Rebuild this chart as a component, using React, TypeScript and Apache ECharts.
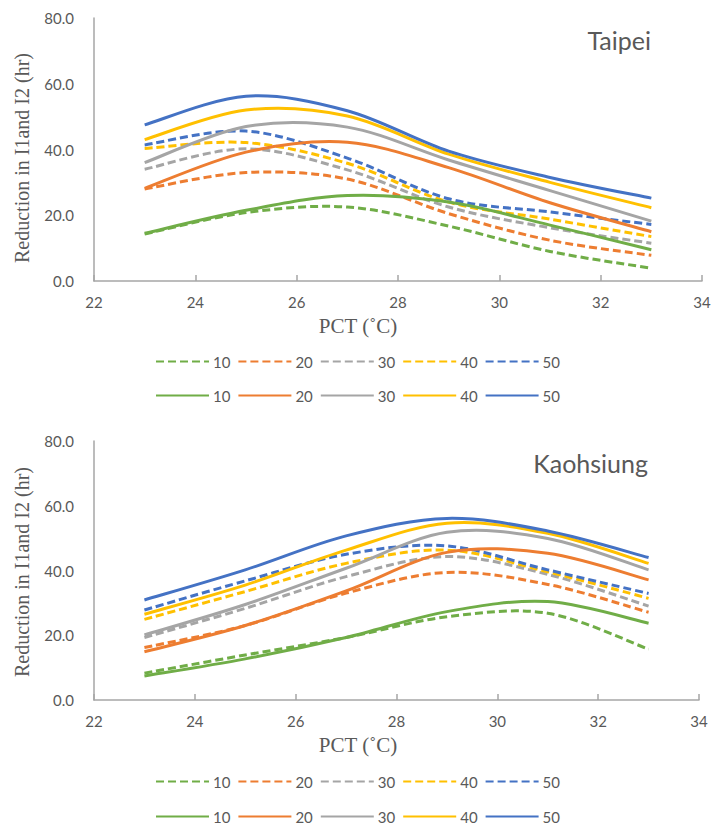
import React, { useEffect, useRef } from "react";
import * as echarts from "echarts";

// PCT (°C) positions of the data points
const pct = [23, 25, 27, 29, 31, 33];
const levels = ["10", "20", "30", "40", "50"];
const yTicks = [0, 20, 40, 60, 80];
const xTicks = [22, 24, 26, 28, 30, 32, 34];

// Taipei – dashed series
const taipeiDashed10 = [14.3, 20.8, 22.5, 16.7, 9.0, 3.9];
const taipeiDashed20 = [28.0, 33.0, 31.0, 20.5, 12.4, 7.8];
const taipeiDashed30 = [34.0, 40.2, 33.8, 22.5, 16.2, 11.5];
const taipeiDashed40 = [40.3, 42.1, 35.8, 24.0, 18.8, 13.5];
const taipeiDashed50 = [41.4, 45.6, 37.4, 25.0, 21.0, 17.2];
// Taipei – solid series
const taipeiSolid10 = [14.5, 21.5, 26.0, 24.0, 17.0, 9.5];
const taipeiSolid20 = [28.2, 39.2, 42.2, 34.5, 23.8, 15.0];
const taipeiSolid30 = [36.0, 47.0, 46.8, 36.8, 27.5, 18.2];
const taipeiSolid40 = [43.0, 52.0, 50.2, 38.6, 30.0, 22.3];
const taipeiSolid50 = [47.5, 56.2, 51.8, 39.5, 31.5, 25.2];

// Kaohsiung – dashed series
const kaoDashed10 = [8.3, 13.9, 19.3, 25.7, 26.8, 15.7];
const kaoDashed20 = [16.2, 23.0, 33.0, 39.4, 35.7, 27.1];
const kaoDashed30 = [19.3, 28.3, 38.1, 44.3, 38.8, 29.0];
const kaoDashed40 = [24.9, 33.5, 42.2, 46.3, 39.6, 31.4];
const kaoDashed50 = [27.8, 36.8, 45.0, 47.6, 40.2, 32.9];
// Kaohsiung – solid series
const kaoSolid10 = [7.4, 12.7, 19.3, 27.3, 30.4, 23.7];
const kaoSolid20 = [14.9, 23.0, 33.7, 45.6, 45.3, 37.1];
const kaoSolid30 = [20.1, 29.5, 40.7, 51.8, 49.9, 40.2];
const kaoSolid40 = [26.5, 35.5, 46.3, 54.6, 51.5, 42.2];
const kaoSolid50 = [30.9, 40.2, 50.7, 56.1, 52.2, 44.0];

const colors = ["#70AD47", "#ED7D31", "#A5A5A5", "#FFC000", "#4472C4"];

const charts = [
  {
    title: "Taipei",
    dashed: [taipeiDashed10, taipeiDashed20, taipeiDashed30, taipeiDashed40, taipeiDashed50],
    solid: [taipeiSolid10, taipeiSolid20, taipeiSolid30, taipeiSolid40, taipeiSolid50],
  },
  {
    title: "Kaohsiung",
    dashed: [kaoDashed10, kaoDashed20, kaoDashed30, kaoDashed40, kaoDashed50],
    solid: [kaoSolid10, kaoSolid20, kaoSolid30, kaoSolid40, kaoSolid50],
  },
];

const GRAY_TEXT = "#595959";
const AXIS_COLOR = "#A6A6A6";
const SANS = "Lato";
const SERIF = "'Liberation Serif', 'Times New Roman', serif";
const DASH = [8, 4];

// Excel-like smoothed line (Catmull-Rom) through pixel points
function smoothPath(pts: number[][]): string {
  const n = pts.length;
  if (n === 0) return "";
  let d = `M${pts[0][0]},${pts[0][1]}`;
  for (let i = 0; i < n - 1; i++) {
    const p0 = pts[Math.max(0, i - 1)];
    const p1 = pts[i];
    const p2 = pts[i + 1];
    const p3 = pts[Math.min(n - 1, i + 2)];
    const c1x = p1[0] + (p2[0] - p0[0]) / 6;
    const c1y = p1[1] + (p2[1] - p0[1]) / 6;
    const c2x = p2[0] - (p3[0] - p1[0]) / 6;
    const c2y = p2[1] - (p3[1] - p1[1]) / 6;
    d += ` C${c1x},${c1y} ${c2x},${c2y} ${p2[0]},${p2[1]}`;
  }
  return d;
}

export default function App() {
  const ref = useRef<HTMLDivElement>(null);

  useEffect(() => {
    if (!ref.current) return;
    const chart = echarts.init(ref.current, undefined, { renderer: "svg" });

    const layout = [
      { left: 94, width: 608, top: 18, height: 263, titleY: 40, titleX: 651, pctY: 326, leg1: 354, leg2: 388, yTitleY: 158 },
      { left: 94, width: 605, top: 441, height: 259, titleY: 463, titleX: 648, pctY: 745, leg1: 774, leg2: 809, yTitleY: 572 },
    ];

    const grids: any[] = [];
    const xAxes: any[] = [];
    const yAxes: any[] = [];
    const series: any[] = [];
    const legends: any[] = [];
    const graphics: any[] = [];

    charts.forEach((c, ci) => {
      const L = layout[ci];
      grids.push({ left: L.left, top: L.top, width: L.width, height: L.height, containLabel: false });
      xAxes.push({
        type: "value",
        gridIndex: ci,
        min: xTicks[0],
        max: xTicks[xTicks.length - 1],
        interval: 2,
        splitLine: { show: false },
        axisLine: { show: true, onZero: false, lineStyle: { color: AXIS_COLOR, width: 1.5 } },
        axisTick: { show: true, inside: true, length: 6, lineStyle: { color: AXIS_COLOR, width: 1.5 } },
        axisLabel: { color: GRAY_TEXT, fontFamily: SANS, fontSize: 15, margin: 13 },
      });
      yAxes.push({
        type: "value",
        gridIndex: ci,
        min: yTicks[0],
        max: yTicks[yTicks.length - 1],
        interval: 20,
        splitLine: { show: false },
        axisLine: { show: true, lineStyle: { color: AXIS_COLOR, width: 1.5 } },
        axisTick: { show: false },
        axisLabel: {
          color: GRAY_TEXT,
          fontFamily: SANS,
          fontSize: 15,
          margin: 20,
          formatter: (v: number) => v.toFixed(1),
        },
      });

      const dNames: string[] = [];
      const sNames: string[] = [];
      (["d", "s"] as const).forEach((kind) => {
        const arrs = kind === "d" ? c.dashed : c.solid;
        arrs.forEach((arr, i) => {
          const name = `${ci}${kind}${levels[i]}`;
          (kind === "d" ? dNames : sNames).push(name);
          const lineStyle = { color: colors[i], width: 3, type: kind === "d" ? DASH : "solid" };
          // legend entry (line icon)
          series.push({
            name,
            type: "line",
            xAxisIndex: ci,
            yAxisIndex: ci,
            data: [],
            symbol: "none",
            lineStyle,
            itemStyle: { color: colors[i] },
          });
          // the smoothed curve, drawn through the axis scales
          const points = pct.map((x, j) => [x, arr[j]]);
          series.push({
            name: `curve-${name}`,
            type: "custom",
            xAxisIndex: ci,
            yAxisIndex: ci,
            data: points,
            encode: { x: 0, y: 1 },
            renderItem: (params: any, api: any) => {
              if (params.dataIndex !== 0) return null;
              const px = points.map((p) => api.coord(p));
              return {
                type: "path",
                shape: { pathData: smoothPath(px) },
                style: {
                  fill: "none",
                  stroke: colors[i],
                  lineWidth: 3,
                  lineDash: kind === "d" ? DASH : null,
                  lineCap: "butt",
                  lineJoin: "round",
                },
              };
            },
          });
        });
      });

      const legendBase = {
        left: "center",
        padding: 0,
        itemWidth: 53,
        itemHeight: 12,
        itemGap: 7,
        selectedMode: false,
        itemStyle: { opacity: 0 },
        formatter: (n: string) => n.slice(2),
        textStyle: { color: GRAY_TEXT, fontFamily: SANS, fontSize: 15, padding: [0, 0, 0, -1] },
      };
      legends.push({ ...legendBase, top: L.leg1, data: dNames });
      legends.push({ ...legendBase, top: L.leg2, data: sNames });

      graphics.push({
        type: "text",
        x: L.titleX,
        y: L.titleY,
        style: {
          text: c.title,
          fill: GRAY_TEXT,
          font: `25px ${SANS}`,
          textAlign: "right",
          textVerticalAlign: "middle",
        },
      });
      graphics.push({
        type: "text",
        x: 358,
        y: L.pctY,
        style: {
          text: "PCT (\u02DAC)",
          fill: GRAY_TEXT,
          font: `21px ${SERIF}`,
          textAlign: "center",
          textVerticalAlign: "middle",
        },
      });
      graphics.push({
        type: "text",
        x: 22,
        y: L.yTitleY,
        rotation: Math.PI / 2,
        style: {
          text: "Reduction in I1and I2 (hr)",
          fill: GRAY_TEXT,
          font: `20px ${SERIF}`,
          textAlign: "center",
          textVerticalAlign: "middle",
        },
      });
    });

    chart.setOption({
      animation: false,
      backgroundColor: "#ffffff",
      grid: grids,
      xAxis: xAxes,
      yAxis: yAxes,
      legend: legends,
      series,
      graphic: graphics,
    });

    return () => chart.dispose();
  }, []);

  return (
    <div
      ref={ref}
      style={{ position: "absolute", left: 0, top: 0, width: 715, height: 828 }}
    />
  );
}
